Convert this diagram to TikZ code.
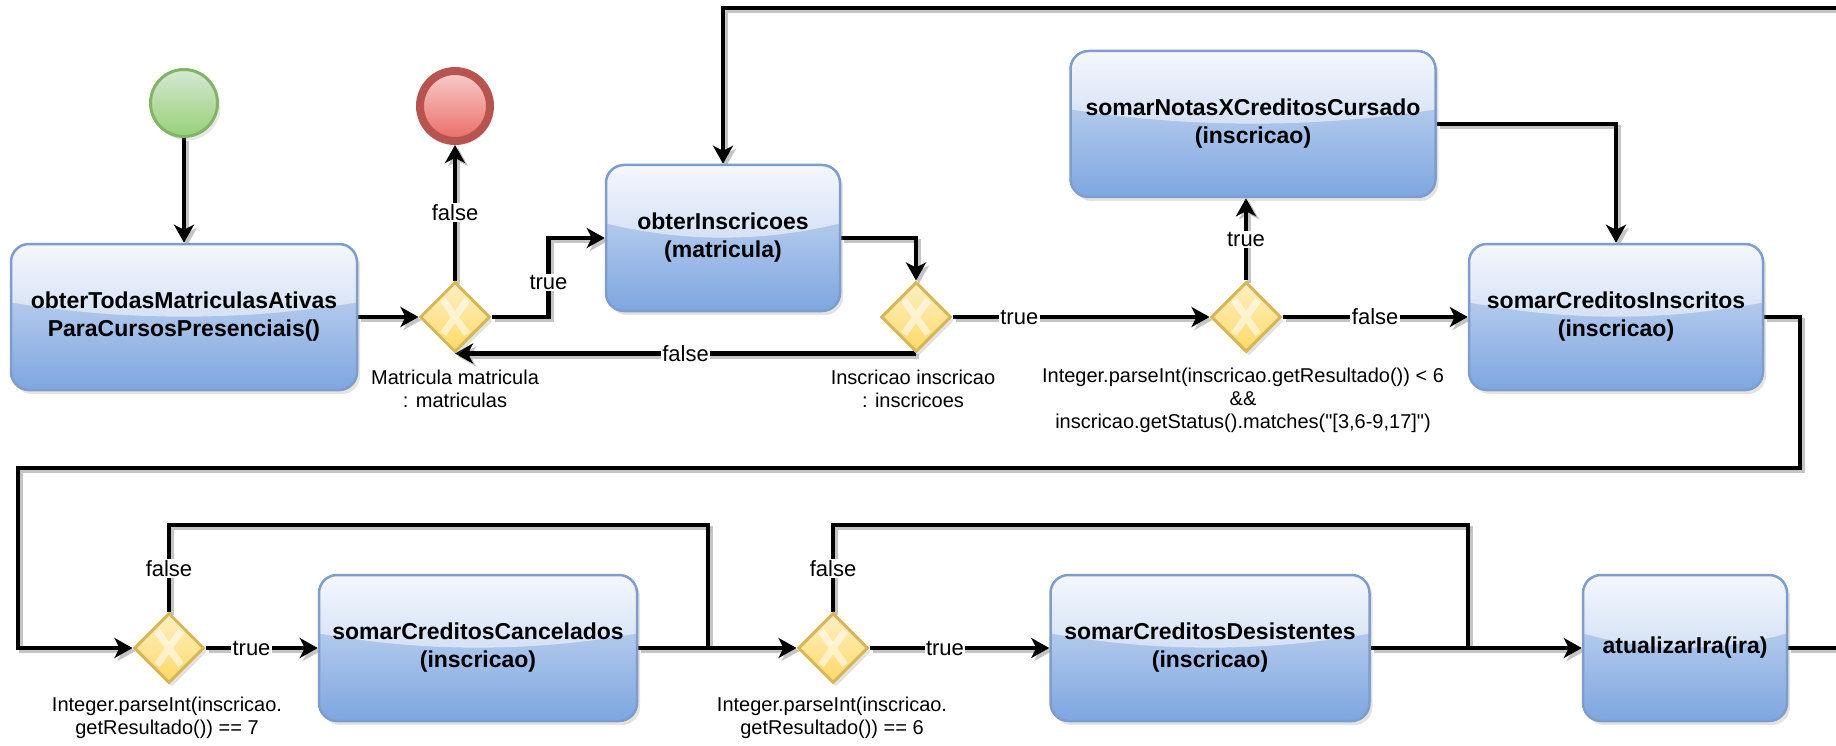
\documentclass[tikz,border=0pt]{standalone}
\usepackage{fontspec}
\setmainfont{Liberation Sans}
% same face without TeX quote ligatures, for code-like captions
\newfontfamily\codecaption{Liberation Sans}
\usetikzlibrary{arrows.meta,shapes.geometric,shadows,backgrounds,calc}

\definecolor{taskTop}{HTML}{D4E0F4}
\definecolor{taskBot}{HTML}{7EA6E0}
\definecolor{taskLine}{HTML}{7E9DCB}
\definecolor{glassTop}{HTML}{F4F7FD}
\definecolor{glassBot}{HTML}{D3E0F4}
\definecolor{gwTop}{HTML}{FCEFC4}
\definecolor{gwBot}{HTML}{FFD966}
\definecolor{gwLine}{HTML}{D6B656}
\definecolor{startTop}{HTML}{D5E8D4}
\definecolor{startBot}{HTML}{97D077}
\definecolor{startLine}{HTML}{82B366}
\definecolor{endTop}{HTML}{F8CECC}
\definecolor{endBot}{HTML}{EA6B66}
\definecolor{endLine}{HTML}{B85450}
\definecolor{wireShadow}{HTML}{C4C4C4}

% glossy upper band of a task box
\newcommand\taskgloss{%
  \path (path picture bounding box.north west) coordinate (gNW)
        (path picture bounding box.south east) coordinate (gSE);
  \shade[sharp corners, top color=glassTop, bottom color=glassBot]
    let \p1=(gNW), \p2=(gSE), \n1={\y1-\y2}, \n2={\x2-\x1} in
    (\x1,\y1) -- (\x2,\y1) -- (\x2,\y1-0.4*\n1)
    .. controls (\x2-0.33*\n2,\y1-0.53*\n1) and (\x1+0.33*\n2,\y1-0.53*\n1) ..
    (\x1,\y1-0.4*\n1) -- cycle;
}
% pale cross inside an exclusive gateway
\newcommand\gatecross{%
  \path (path picture bounding box.center) coordinate (gC);
  \draw[sharp corners, white, opacity=0.55, line width=7pt]
    ($(gC)+(-12pt,-17pt)$) -- ($(gC)+(12pt,17pt)$)
    ($(gC)+(-12pt,17pt)$) -- ($(gC)+(12pt,-17pt)$);
}

\tikzset{
  task/.style={shape=rectangle, rounded corners=18pt, draw=taskLine, line width=2.5pt,
    top color=taskTop, bottom color=taskBot, minimum height=146pt, inner sep=0pt,
    align=center, font=\fontsize{23}{28}\selectfont\bfseries,
    drop shadow={shadow xshift=3pt, shadow yshift=-4pt, opacity=0.22},
    path picture={\taskgloss}},
  gateway/.style={shape=diamond, draw=gwLine, line width=3pt,
    top color=gwTop, bottom color=gwBot, minimum width=70pt, minimum height=70pt,
    inner sep=0pt, drop shadow={shadow xshift=3pt, shadow yshift=-4pt, opacity=0.22},
    path picture={\gatecross}},
  startev/.style={shape=circle, draw=startLine, line width=3pt, top color=startTop,
    bottom color=startBot, minimum size=67pt, inner sep=0pt,
    drop shadow={shadow xshift=3pt, shadow yshift=-4pt, opacity=0.18}},
  endev/.style={shape=circle, draw=endLine, line width=8pt, top color=endTop,
    bottom color=endBot, minimum size=70pt, inner sep=0pt,
    drop shadow={shadow xshift=3pt, shadow yshift=-4pt, opacity=0.18}},
  cond/.style={align=center, inner sep=0pt, font=\codecaption\fontsize{20}{23}\selectfont},
  lbl/.style={fill=white, inner sep=1.5pt, font=\fontsize{22}{25}\selectfont},
  plain/.style={line width=4.5pt, black, line join=miter,
    preaction={draw=wireShadow, line width=4.5pt, transform canvas={xshift=3pt,yshift=-3pt}}},
  wire/.style={plain, -{Stealth[length=18pt,width=20pt,inset=5pt]}},
}

\begin{document}
\begin{tikzpicture}[x=1pt,y=-1pt]
\useasboundingbox (0,0) rectangle (1836,746);

% events
\node[startev] (start) at (184,103) {};
\node[endev] (stop) at (455,106) {};

% first row
\node[task, minimum width=346pt] (todas) at (184,317) {obterTodasMatriculasAtivas\\ParaCursosPresenciais()};
\node[gateway] (g1) at (455,317) {};
\node[task, minimum width=234pt] (inscr) at (723,238) {obterInscricoes\\(matricula)};
\node[gateway] (g2) at (916,317) {};
\node[gateway] (g3) at (1246,317) {};
\node[task, minimum width=365pt] (notas) at (1253,124) {somarNotasXCreditosCursado\\(inscricao)};
\node[task, minimum width=294pt] (inscritos) at (1616,317) {somarCreditosInscritos\\(inscricao)};

% second row
\node[gateway] (g4) at (169,648) {};
\node[task, minimum width=318pt] (cancel) at (478,648) {somarCreditosCancelados\\(inscricao)};
\node[gateway] (g5) at (833,648) {};
\node[task, minimum width=319pt] (desist) at (1210,648) {somarCreditosDesistentes\\(inscricao)};
\node[task, minimum width=204pt] (ira) at (1685,648) {atualizarIra(ira)};

% gateway conditions
\node[cond] (c1) at (455,389) {Matricula matricula\\: matriculas};
\node[cond] (c2) at (913,389) {Inscricao inscricao\\: inscricoes};
\node[cond] (c3) at (1243,400) {Integer.parseInt(inscricao.getResultado()) < 6\\\&\&\\inscricao.getStatus().matches("[3,6-9,17]")};
\node[cond] (c4) at (167,718) {Integer.parseInt(inscricao.\\getResultado()) == 7};
\node[cond] (c5) at (832,718) {Integer.parseInt(inscricao.\\getResultado()) == 6};

% loose ends and joins
\coordinate (loopIn) at (1840,8);
\coordinate (loopOut) at (1840,648);
\coordinate (j1) at (708,648);
\coordinate (j2) at (1468,648);

\begin{scope}[on background layer]
  \draw[wire] (start) -- (todas);
  \draw[wire] (todas.east) -- (g1.west);
  \draw[wire] (g1) -- node[lbl]{false} (stop);
  \draw[wire] (g1.east) -- ++(57,0) |- node[lbl, pos=0.22]{true} (inscr.west);
  \draw[wire] (inscr.east) -| (g2.north);
  \draw[wire] (g2.south) -- node[lbl]{false} (g1.south);
  \draw[wire] (g2) -- node[lbl, pos=0.26]{true} (g3);
  \draw[wire] (g3) -- node[lbl]{true} (g3 |- notas.south);
  \draw[wire] (g3) -- node[lbl]{false} (inscritos);
  \draw[wire] (notas.east) -| (inscritos.north);
  \draw[wire] (inscritos.east) -- (1800,317) |- (18,468) |- (g4.west);
  \draw[wire] (loopIn) -| (inscr.north);

  \draw[wire] (g4) -- node[lbl, pos=0.41]{true} (cancel);
  \draw[plain] (g4.north) -- node[lbl]{false} (169,525) -| (j1);
  \draw[wire] (cancel) -- (g5);
  \draw[wire] (g5) -- node[lbl, pos=0.42]{true} (desist);
  \draw[plain] (g5.north) -- node[lbl]{false} (833,525) -| (j2);
  \draw[wire] (desist) -- (ira);
  \draw[plain] (ira) -- (loopOut);
\end{scope}
\end{tikzpicture}
\end{document}
